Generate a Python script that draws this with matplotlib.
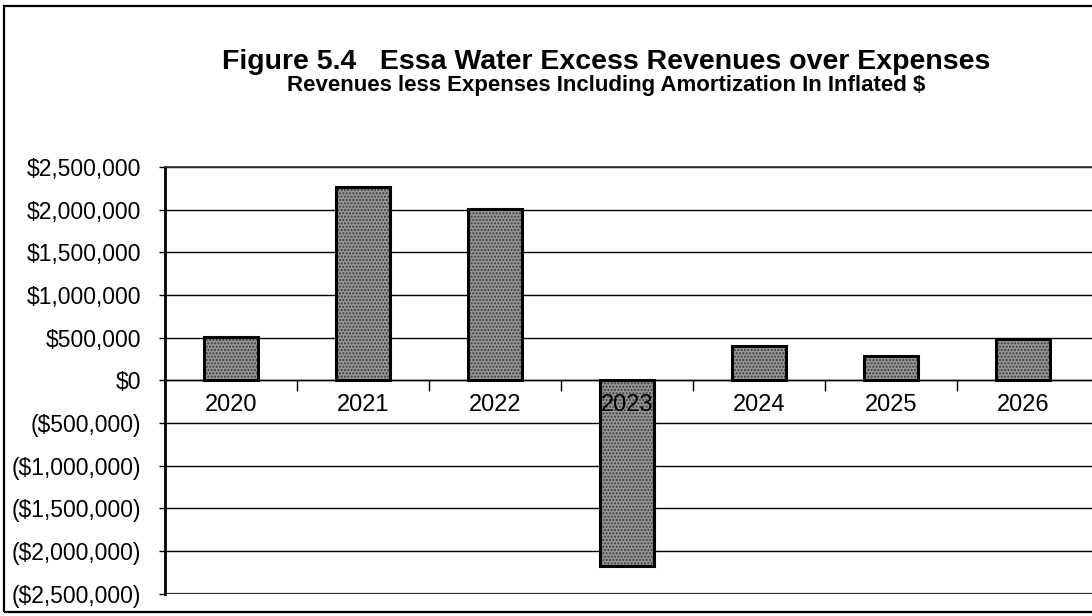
import matplotlib.pyplot as plt
from matplotlib.patches import Rectangle
from matplotlib.ticker import FuncFormatter

plt.rcParams['font.family'] = ['Liberation Sans', 'DejaVu Sans']
plt.rcParams['hatch.linewidth'] = 1.0

years = ['2020', '2021', '2022', '2023', '2024', '2025', '2026']
excess = [505000, 2265000, 2010000, -2170000, 405000, 290000, 485000]
yticks = [-2500000, -2000000, -1500000, -1000000, -500000,
          0, 500000, 1000000, 1500000, 2000000, 2500000]


def money(v, pos):
    if v < 0:
        return '(${:,.0f})'.format(-v)
    return '${:,.0f}'.format(v)


fig = plt.figure(figsize=(10.92, 6.16), dpi=100)
ax = fig.add_axes([0.151, 0.036, 0.849, 0.693])

# gridlines under the bars, axis labels stay on top
for t in yticks:
    ax.axhline(t, color='black', lw=1.0, zorder=0.5)

x = list(range(len(years)))
ax.bar(x, excess, width=0.41, color='#969696', edgecolor='#3a3a3a',
       linewidth=0, hatch='.....', zorder=1)
ax.bar(x, excess, width=0.41, color='none', edgecolor='black',
       linewidth=2.2, zorder=1.1)

ax.set_xlim(-0.5, 6.52)
ax.set_ylim(-2500000, 2500000)
ax.set_yticks(yticks)
ax.yaxis.set_major_formatter(FuncFormatter(money))
ax.tick_params(axis='y', length=4, width=1, labelsize=16.5, pad=13)

# category labels sit just under the zero line
ax.spines['bottom'].set_position(('data', 0))
ax.spines['bottom'].set_linewidth(1.0)
ax.set_xticks(x)
ax.set_xticklabels(years)
ax.set_xticks([i + 0.5 for i in range(6)], minor=True)
ax.tick_params(axis='x', which='major', length=0, labelsize=17, pad=10)
ax.tick_params(axis='x', which='minor', length=8, width=1, direction='out')

ax.spines['right'].set_visible(False)
ax.spines['left'].set_linewidth(2.0)
ax.spines['top'].set_color('#333333')
ax.spines['top'].set_linewidth(1.2)
ax.axhline(-2500000, color='#333333', lw=1.6, zorder=2)

fig.text(0.555, 0.899, 'Figure 5.4   Essa Water Excess Revenues over Expenses',
         ha='center', va='center', fontsize=20.5, fontweight='bold')
fig.text(0.555, 0.862, 'Revenues less Expenses Including Amortization In Inflated $',
         ha='center', va='center', fontsize=16, fontweight='bold')

# outer frame of the figure box
fig.patches.append(Rectangle((0.004, 0.006), 1.2, 0.984, transform=fig.transFigure,
                             fill=False, edgecolor='black', lw=1.6))

plt.savefig('out.png', dpi=100)
